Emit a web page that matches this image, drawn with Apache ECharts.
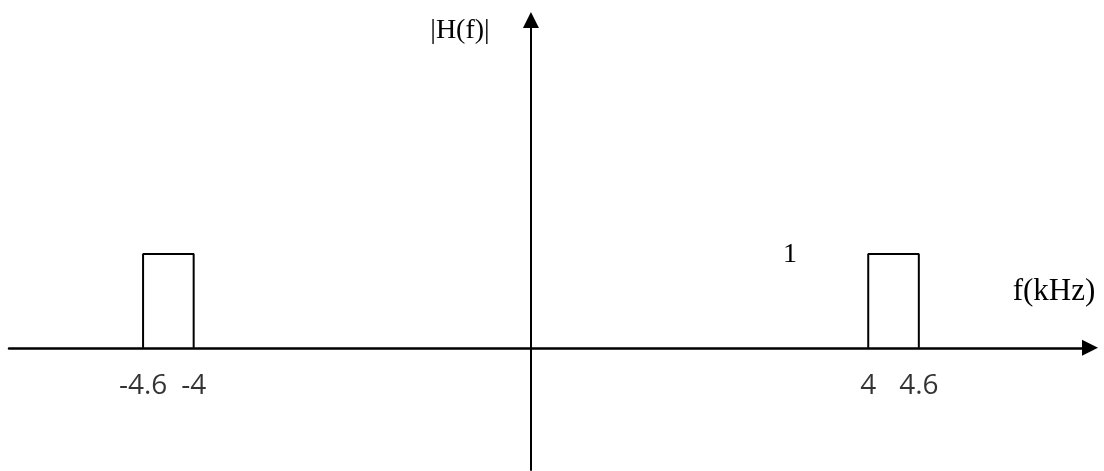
<!DOCTYPE html>
<html>
<head>
<meta charset="utf-8">
<script src="https://cdn.jsdelivr.net/npm/echarts@6/dist/echarts.min.js"></script>
<style>
html,body{margin:0;padding:0;background:#fff;}
#chart{width:1104px;height:471px;}
</style>
</head>
<body>
<div id="chart"></div>
<script>
// Band-pass magnitude response |H(f)|
const tickValues = [-4.6, -4, 4, 4.6];
const tickLabels = ['-4.6', '-4', '4', '4.6'];
const leftBandF = [-4.6, -4.6, -4, -4];
const leftBandH = [0, 1, 1, 0];
const rightBandF = [4, 4, 4.6, 4.6];
const rightBandH = [0, 1, 1, 0];
const yAxisTitle = '|H(f)|';
const xAxisTitle = 'f(kHz)';
const levelLabel = '1';

const chart = echarts.init(document.getElementById('chart'), null, {renderer: 'canvas'});
const serif = 'Liberation Serif';
const sans = 'Open Sans';

const zip = (a, b) => a.map((v, i) => [v, b[i]]);
const bandSeries = (f, h) => ({
  type: 'line',
  data: zip(f, h),
  symbol: 'none',
  silent: true,
  lineStyle: {color: '#000', width: 2},
  z: 3
});

chart.setOption({
  backgroundColor: '#fff',
  animation: false,
  grid: {left: 9, right: 14, top: 20, bottom: 1, outerBoundsMode: 'none', containLabel: false},
  xAxis: {
    type: 'value',
    min: -6.19, max: 6.63,
    axisLine: {
      onZero: true,
      lineStyle: {color: '#000', width: 2.5},
      symbol: ['none', 'triangle'],
      symbolSize: [16, 16]
    },
    axisTick: {show: false},
    splitLine: {show: false},
    axisLabel: {show: false}
  },
  yAxis: {
    type: 'value',
    min: -1.3, max: 3.49,
    axisLine: {
      onZero: true,
      lineStyle: {color: '#000', width: 2},
      symbol: ['none', 'triangle'],
      symbolSize: [16, 16]
    },
    axisTick: {show: false},
    splitLine: {show: false},
    axisLabel: {show: false}
  },
  graphic: [
    {type: 'text', x: 460, y: 31, style: {text: yAxisTitle, fontFamily: serif, fontSize: 28, fill: '#000', align: 'center', verticalAlign: 'middle'}},
    {type: 'text', x: 1054, y: 292, style: {text: xAxisTitle, fontFamily: serif, fontSize: 31, fill: '#000', align: 'center', verticalAlign: 'middle'}},
    {type: 'text', x: 790, y: 255, style: {text: levelLabel, fontFamily: serif, fontSize: 28, fill: '#000', align: 'center', verticalAlign: 'middle'}}
  ],
  series: [
    bandSeries(leftBandF, leftBandH),
    bandSeries(rightBandF, rightBandH),
    {
      type: 'scatter',
      data: tickValues.map((v, i) => ({value: [v, 0], name: tickLabels[i]})),
      symbolSize: 0,
      silent: true,
      label: {
        show: true,
        position: 'bottom',
        distance: 24,
        formatter: p => p.name,
        color: '#000',
        fontFamily: sans,
        fontSize: 28
      }
    }
  ]
});
</script>
</body>
</html>
